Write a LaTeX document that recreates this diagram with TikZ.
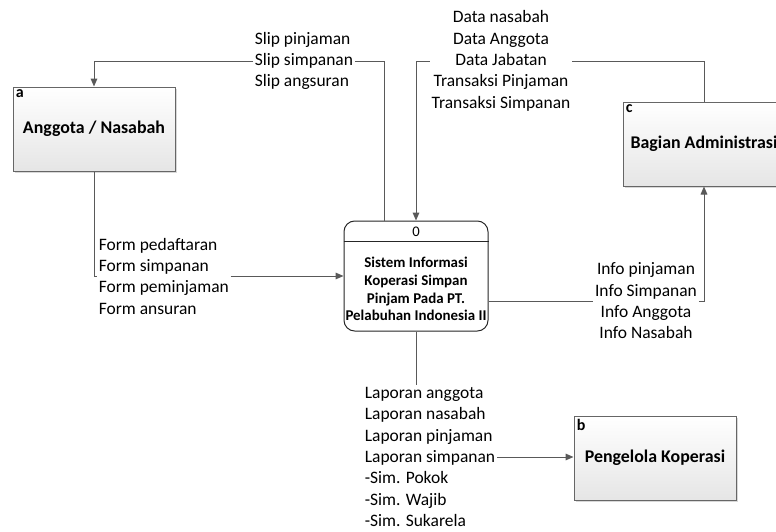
\documentclass[tikz,border=0pt]{standalone}
\usepackage{fontspec}
\setmainfont{Carlito}
\usetikzlibrary{arrows.meta,calc,shadows}

\tikzset{every picture/.style={line width=0.75pt}}
\tikzset{
	entitas/.style={draw=black!60, top color=white, bottom color=black!10, minimum width=121.5pt, minimum height=63pt, font=\fontsize{13.4}{16}\selectfont\bfseries, drop shadow={shadow xshift=1.5pt, shadow yshift=-1.5pt, fill=black!30}},
	kode/.style={font=\fontsize{12}{14}\selectfont\bfseries, inner sep=2.2pt},
	proses/.style={draw=black!85, fill=white, rounded corners=8pt, minimum width=108pt, minimum height=82.5pt},
	keterangan/.style={font=\fontsize{13.1}{16}\selectfont, inner sep=1pt},
	alur/.style={draw=black!65},
	panah/.style={alur, -{Triangle[length=6pt,width=5pt]}}
}

\begin{document}
\begin{tikzpicture}[x=0.75pt,y=0.75pt,yscale=-1,xscale=1]
	\path [use as bounding box, clip] (0,0) rectangle (776,532);

	% Entities
	\node [entitas, label={[kode, anchor=north west]north west:a}] (anggota) at (94,129) {Anggota / Nasabah};
	\node [entitas, label={[kode, anchor=north west]north west:b}] (pengelola) at (655,458) {Pengelola Koperasi};
	\node [entitas, label={[kode, anchor=north west]north west:c}] (admin) at (704,144) {Bagian Administrasi};

	% Process
	\node [proses] (proses) at (416,276) {};
	\draw [black!85] ($(proses.north west)+(0,21)$) -- ($(proses.north east)+(0,21)$);
	\node [font=\fontsize{11}{13}\selectfont] (nomor) at ($(proses.north)+(0,11.5)$) {0};
	\node [font=\fontsize{11.2}{13.3}\selectfont\bfseries, align=center] (judul) at (416,289) {Sistem Informasi\\Koperasi Simpan\\Pinjam Pada PT.\\Pelabuhan Indonesia II};

	% Text Node
	\node [keterangan, anchor=west, align=left] (sliplabel) at (253,61) {Slip pinjaman\\Slip simpanan\\Slip angsuran};
	% Text Node
	\node [keterangan, align=center] (datalabel) at (501,61) {Data nasabah\\Data Anggota\\Data Jabatan\\Transaksi Pinjaman\\Transaksi Simpanan};
	% Text Node
	\node [keterangan, anchor=west, align=left] (formlabel) at (97,276) {Form pedaftaran\\Form simpanan\\Form peminjaman\\Form ansuran};
	% Text Node
	\node [keterangan, align=center] (infolabel) at (646,301) {Info pinjaman\\Info Simpanan\\Info Anggota\\Info Nasabah};
	% Text Node
	\node [keterangan, anchor=west, align=left] (laporanlabel) at (363,457) {Laporan anggota\\Laporan nasabah\\Laporan pinjaman\\Laporan simpanan\\-Sim. Pokok\\-Sim. Wajib\\-Sim. Sukarela};

	% Connection
	\draw [alur] ($(proses.north)+(-32,0)$) |- (sliplabel.east);
	\draw [panah] (sliplabel.west) -| (anggota.north);
	% Connection
	\draw [alur] (admin.north) |- (datalabel.east);
	\draw [panah] (datalabel.west) -| (proses.north);
	% Connection
	\draw [alur] (anggota.south) |- (formlabel.west);
	\draw [panah] (formlabel.east) -- (proses.west);
	% Connection
	\draw [alur] (proses.east |- infolabel.west) -- (infolabel.west);
	\draw [panah] (infolabel.east) -| (admin.south);
	% Connection
	\draw [alur] (proses.south) -- (proses.south |- laporanlabel.north);
	\draw [panah] (laporanlabel.east) -- (laporanlabel.east -| pengelola.west);

\end{tikzpicture}
\end{document}
